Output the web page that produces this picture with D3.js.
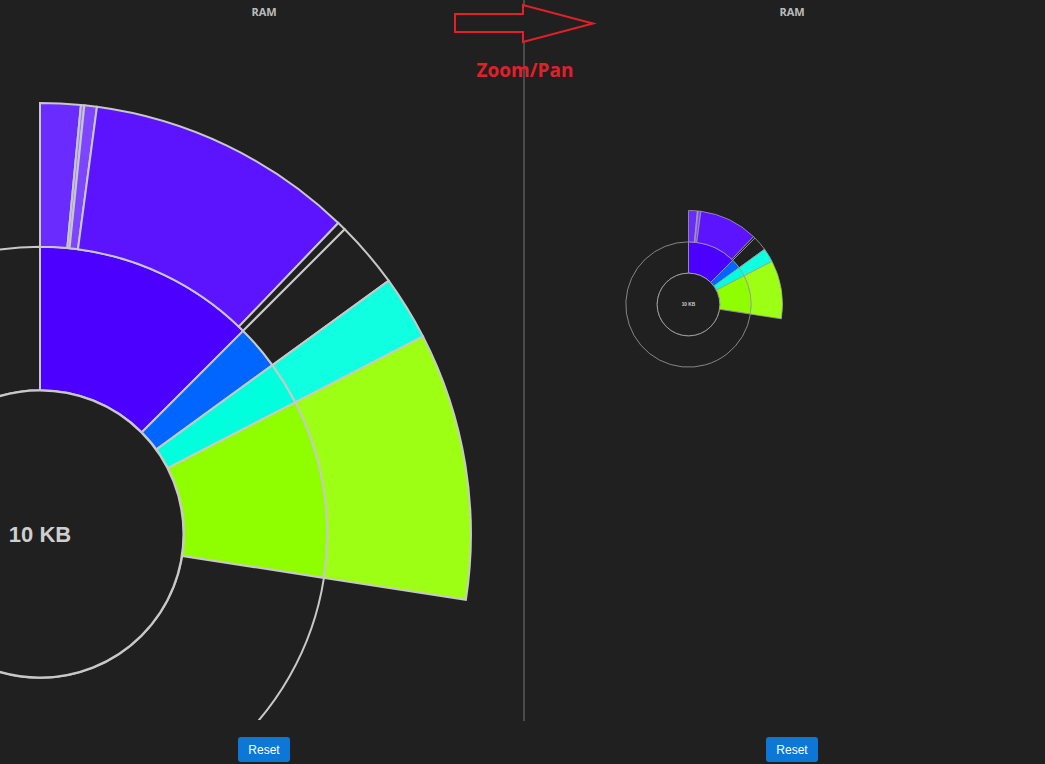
<!DOCTYPE html>
<html>
<head>
<meta charset="utf-8">
<script src="https://cdn.jsdelivr.net/npm/d3@7/dist/d3.min.js"></script>
<style>
  html, body { margin: 0; padding: 0; background: #202020; overflow: hidden; }
  svg { display: block; }
</style>
</head>
<body>
<svg id="chart" width="1045" height="764"></svg>
<script>
// RAM usage, in bytes
var totalLabel = '10 KB';
var groupNames  = ['text', 'data', 'bss', 'heap', 'free'];
var groupColors = ['#4c00ff', '#0066ff', '#00ffdc', '#8fff00', '#202020'];
var freeBytes   = 7430;

// second ring, each entry belongs to a group above
var leafGroups = ['text', 'text', 'text', 'text', 'text', 'data', 'bss', 'heap'];
var leafNames  = ['main', 'isr', 'vectors', 'lib', 'pad', 'init', 'zero', 'pool'];
var leafValues = [155, 13, 48, 1030, 34, 256, 248, 1026];
var leafColors = ['#6a2bff', '#9c7bff', '#7d45ff', '#5c14ff', '#202020', '#202020', '#10ffe0', '#9dff14'];

var bg = '#202020';
var ringWidth = 31.33;   // radius of one level, unzoomed

// build the tree
var tree = {name: 'RAM', children: groupNames.map(function(g, i) {
  var kids = [];
  leafNames.forEach(function(n, j) {
    if (leafGroups[j] === g) kids.push({name: n, value: leafValues[j], color: leafColors[j]});
  });
  var node = {name: g, color: groupColors[i]};
  if (kids.length) node.children = kids; else node.value = freeBytes;
  return node;
})};

var root = d3.hierarchy(tree).sum(function(d) { return d.value || 0; });
d3.partition().size([2 * Math.PI, 3])(root);

var svg = d3.select('#chart');

// left panel is clipped at the divider
svg.append('defs').append('clipPath').attr('id', 'leftClip')
  .append('rect').attr('x', 0).attr('y', 0).attr('width', 523).attr('height', 720);

function drawSunburst(parent, cx, cy, k, strokeW, strokeC, fontSize) {
  var y = d3.scaleLinear().domain([0, 3]).range([0, 3 * ringWidth * k]);

  var arc = d3.arc()
    .startAngle(function(d) { return d.x0; })
    .endAngle(function(d) { return d.x1; })
    .innerRadius(function(d) { return y(d.y0); })
    .outerRadius(function(d) { return y(d.y1); });

  var g = parent.append('g')
    .attr('transform', 'translate(' + cx + ',' + cy + ')');

  g.selectAll('path')
    .data(root.descendants().filter(function(d) { return d.depth > 0; }))
    .enter().append('path')
      .attr('d', arc)
      .attr('fill', function(d) { return d.data.color; })
      .attr('stroke', strokeC)
      .attr('stroke-width', strokeW);

  // centre circle with the total
  g.append('circle')
    .attr('r', y(root.y1))
    .attr('fill', bg)
    .attr('stroke', strokeC)
    .attr('stroke-width', strokeW * 1.2);

  g.append('text')
    .attr('text-anchor', 'middle')
    .attr('dy', '0.35em')
    .style('font', 'bold ' + fontSize + 'px "Liberation Sans", Arial, sans-serif')
    .attr('fill', '#cfcfcf')
    .text(totalLabel);
}

// zoomed view on the left
var left = svg.append('g').attr('clip-path', 'url(#leftClip)');
drawSunburst(left, 40, 534, 4.585, 2, '#c8c8c8', 22);

// normal view on the right
drawSunburst(svg.append('g'), 688.5, 304.5, 1, 0.8, '#a0a0a0', 4.8);

// divider
svg.append('line')
  .attr('x1', 524).attr('x2', 524).attr('y1', 0).attr('y2', 721)
  .attr('stroke', '#4a4a4a').attr('stroke-width', 2);

// titles
[264, 792].forEach(function(x) {
  svg.append('text')
    .attr('x', x).attr('y', 16)
    .attr('text-anchor', 'middle')
    .style('font', 'bold 11px "Open Sans", "Liberation Sans", sans-serif')
    .attr('fill', '#bcbcbc')
    .text('RAM');
});

// reset buttons
[264, 792].forEach(function(x) {
  svg.append('rect')
    .attr('x', x - 26).attr('y', 737).attr('width', 52).attr('height', 25)
    .attr('rx', 3).attr('fill', '#0b77d6');
  svg.append('text')
    .attr('x', x).attr('y', 754)
    .attr('text-anchor', 'middle')
    .style('font', '12px "Liberation Sans", Arial, sans-serif')
    .attr('fill', '#ffffff')
    .text('Reset');
});

// annotation arrow
var arrowPts = [[455, 14], [523, 14], [523, 5], [593, 23.5], [523, 42], [523, 32], [455, 32]];
svg.append('polygon')
  .attr('points', arrowPts.map(function(p) { return p.join(','); }).join(' '))
  .attr('fill', bg)
  .attr('stroke', '#e3202a')
  .attr('stroke-width', 2);

svg.append('text')
  .attr('x', 525).attr('y', 77)
  .attr('text-anchor', 'middle')
  .style('font', 'bold 19px "Open Sans", "Noto Sans", sans-serif')
  .attr('fill', '#e3202a')
  .text('Zoom/Pan');
</script>
</body>
</html>
